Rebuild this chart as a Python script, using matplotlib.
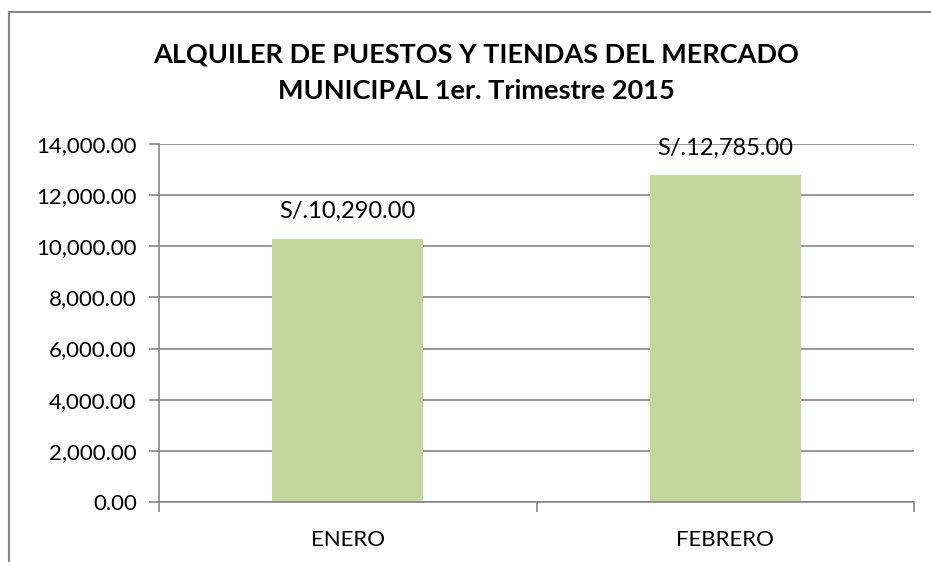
import matplotlib.pyplot as plt
from matplotlib.lines import Line2D
from matplotlib.ticker import FuncFormatter

meses = ["ENERO", "FEBRERO"]
montos = [10290.00, 12785.00]
titulo = "ALQUILER DE PUESTOS Y TIENDAS DEL MERCADO\nMUNICIPAL 1er. Trimestre 2015"

plt.rcParams['font.family'] = ['Lato', 'DejaVu Sans']

fig = plt.figure(figsize=(9.31, 5.62), dpi=100)
ax = fig.add_axes([159 / 931, 1 - 502 / 562, 755 / 931, 358 / 562])

gris = "#868686"
x = range(len(meses))
barras = ax.bar(x, montos, width=0.4, color="#C3D69B", zorder=2)

for b, v in zip(barras, montos):
    ax.annotate(f"S/.{v:,.2f}", (b.get_x() + b.get_width() / 2, v),
                xytext=(0, 12), textcoords="offset points",
                ha="center", va="bottom", fontsize=17)

ax.set_xlim(-0.5, len(meses) - 0.5)
ax.set_ylim(0, 14000)
ax.set_yticks(range(0, 14001, 2000))
ax.yaxis.set_major_formatter(FuncFormatter(lambda v, p: f"{v:,.2f}"))
ax.set_xticks(x)
ax.set_xticklabels(meses)
ax.set_xticks([-0.5, 0.5, 1.5], minor=True)
ax.tick_params(axis="x", which="major", length=0, pad=20, labelsize=16)
ax.tick_params(axis="x", which="minor", length=7, color=gris, width=1.2)
ax.tick_params(axis="y", length=7, color=gris, width=1.2, labelsize=16, pad=9)
ax.grid(axis="y", color=gris, linewidth=1.2, zorder=0)

for s in ["top", "right"]:
    ax.spines[s].set_visible(False)
for s in ["left", "bottom"]:
    ax.spines[s].set_color(gris)
    ax.spines[s].set_linewidth(1.2)

# marco del grafico (solo se ven borde izquierdo y superior)
fig.add_artist(Line2D([9 / 931, 9 / 931], [0, 1 - 12 / 562], color=gris, lw=1.5, transform=fig.transFigure))
fig.add_artist(Line2D([9 / 931, 1], [1 - 12 / 562, 1 - 12 / 562], color=gris, lw=1.5, transform=fig.transFigure))

fig.text(476 / 931, 1 - 73 / 562, titulo, ha="center", va="center",
         fontsize=19.5, fontweight="bold", linespacing=1.6)

fig.savefig("out.png", dpi=100)
